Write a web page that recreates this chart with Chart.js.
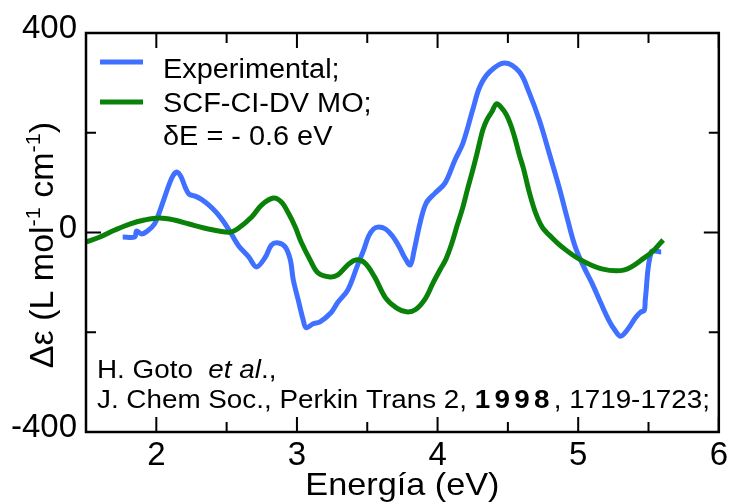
<!DOCTYPE html>
<html>
<head>
<meta charset="utf-8">
<script src="https://cdn.jsdelivr.net/npm/chart.js@4.4.1/dist/chart.umd.min.js"></script>
<style>
  body { margin: 0; background: #fff; }
  #cd { display: block; }
</style>
</head>
<body>
<canvas id="cd" width="732" height="503"></canvas>
<script>
// CD spectrum: experimental vs SCF-CI-DV MO
const expX = [1.761, 1.846, 1.86, 1.895, 1.937, 1.987, 2.022, 2.057, 2.092, 2.121, 2.149, 2.177, 2.205, 2.233, 2.276, 2.318, 2.374, 2.431, 2.48, 2.53, 2.586,
  2.657, 2.713, 2.776, 2.819, 2.868, 2.917, 2.953, 2.974, 3.009, 3.044, 3.066, 3.115, 3.164, 3.242, 3.291, 3.362, 3.432, 3.475, 3.51, 3.545, 3.58, 3.63, 3.679,
  3.728, 3.764, 3.806, 3.834, 3.877, 3.919, 3.982, 4.053, 4.123, 4.18, 4.25, 4.3, 4.37, 4.476, 4.582, 4.652, 4.723, 4.793, 4.864, 4.92, 4.977, 5.04, 5.097,
  5.16, 5.216, 5.259, 5.301, 5.35, 5.407, 5.442, 5.47, 5.477, 5.52, 5.59];
const expY = [-9, -9, 3, -3, 3, 17, 41, 69, 97, 115, 121, 111, 91, 77, 73, 67, 55, 39, 21, -1, -27,
  -49, -69, -49, -25, -21, -29, -55, -95, -135, -175, -191, -183, -179, -161, -140, -115, -65, -35, -7, 7, 11, 7, -7,
  -29, -49, -65, -35, 21, 59, 79, 99, 145, 179, 246, 292, 322, 340, 322, 280, 226, 160, 91, 31, -27, -69, -101,
  -141, -175, -195, -208, -195, -171, -160, -156, -135, -39, -39];

const calcX = [1.5, 1.599, 1.705, 1.81, 1.916, 2.022, 2.128, 2.233, 2.339, 2.445, 2.53, 2.586, 2.678, 2.748, 2.833, 2.889, 2.939, 2.988, 3.03,
  3.094, 3.15, 3.235, 3.291, 3.362, 3.418, 3.482, 3.552, 3.63, 3.707, 3.778, 3.841, 3.912, 3.968, 4.025, 4.06, 4.102, 4.138, 4.18, 4.215,
  4.25, 4.286, 4.321, 4.349, 4.384, 4.42, 4.455, 4.49, 4.525, 4.554, 4.582, 4.61, 4.652, 4.695, 4.744, 4.815, 4.885, 5.005, 5.167, 5.33, 5.47, 5.54, 5.604];
const calcY = [-19, -9, 5, 17, 25, 29, 25, 17, 9, 3, 1, 9, 31, 55, 69, 61, 39, 11, -19,
  -55, -81, -89, -85, -65, -55, -61, -89, -131, -151, -159, -155, -133, -101, -71, -53, -21, 13, 51, 89,
  125, 165, 205, 225, 241, 258, 250, 236, 212, 185, 155, 129, 81, 41, 11, -11, -29, -53, -73, -75, -51, -35, -15];

const xMajor = [2, 3, 4, 5, 6];
const xMinor = [1.5, 2.5, 3.5, 4.5, 5.5];
const yMajor = [-400, 0, 400];
const yMinor = [-200, 200];

const FONT = "'Liberation Sans', Arial, Helvetica, sans-serif";
const BLUE = 'rgb(64, 112, 255)';
const GREEN = 'rgb(10, 130, 10)';
const SX = 1.07; // the original lettering is a little wider than Arial

function pts(xs, ys) {
  return xs.map((x, i) => ({ x: x, y: ys[i] }));
}

function runWidth(ctx, parts) {
  let w = 0;
  parts.forEach(p => {
    ctx.font = p.font;
    if (p.spacing) {
      for (const ch of p.text) w += ctx.measureText(ch).width + p.spacing;
    } else {
      w += ctx.measureText(p.text).width;
    }
  });
  return w;
}

// draws text pieces one after another, stretched by sx
function drawRun(ctx, x, y, parts, sx) {
  ctx.save();
  ctx.translate(x, y);
  ctx.scale(sx, 1);
  let cx = 0;
  parts.forEach(p => {
    ctx.font = p.font;
    if (p.spacing) {
      for (const ch of p.text) {
        ctx.fillText(ch, cx, p.dy || 0);
        cx += ctx.measureText(ch).width + p.spacing;
      }
    } else {
      ctx.fillText(p.text, cx, p.dy || 0);
      cx += ctx.measureText(p.text).width;
    }
  });
  ctx.restore();
}

const decor = {
  id: 'decor',
  afterDraw(chart) {
    const ctx = chart.ctx;
    const a = chart.chartArea;
    const xs = chart.scales.x, ys = chart.scales.y;
    ctx.save();
    ctx.strokeStyle = '#000';
    ctx.lineWidth = 2.5;
    ctx.strokeRect(a.left, a.top, a.right - a.left, a.bottom - a.top);

    // inward ticks on all four sides
    ctx.lineWidth = 2;
    ctx.beginPath();
    const tx = (v, len) => {
      const p = xs.getPixelForValue(v);
      ctx.moveTo(p, a.bottom); ctx.lineTo(p, a.bottom - len);
      ctx.moveTo(p, a.top); ctx.lineTo(p, a.top + len);
    };
    const ty = (v, len) => {
      const p = ys.getPixelForValue(v);
      ctx.moveTo(a.left, p); ctx.lineTo(a.left + len, p);
      ctx.moveTo(a.right, p); ctx.lineTo(a.right - len, p);
    };
    xMajor.forEach(v => tx(v, 15));
    xMinor.forEach(v => tx(v, 10));
    yMajor.forEach(v => ty(v, 15));
    yMinor.forEach(v => ty(v, 10));
    ctx.stroke();

    ctx.fillStyle = '#000';
    ctx.textBaseline = 'alphabetic';
    ctx.textAlign = 'left';

    // legend
    const lf = '27px ' + FONT;
    ctx.lineWidth = 5;
    ctx.strokeStyle = BLUE;
    ctx.beginPath(); ctx.moveTo(100, 62); ctx.lineTo(143, 62); ctx.stroke();
    ctx.strokeStyle = GREEN;
    ctx.beginPath(); ctx.moveTo(100, 102); ctx.lineTo(143, 102); ctx.stroke();
    drawRun(ctx, 163, 78, [{ text: 'Experimental;', font: lf }], SX);
    drawRun(ctx, 163, 112, [{ text: 'SCF-CI-DV MO;', font: lf }], SX);
    drawRun(ctx, 163, 145, [{ text: '\u03b4E = - 0.6 eV', font: lf }], SX);

    // reference
    const rf = '26px ' + FONT;
    drawRun(ctx, 97, 378, [
      { text: 'H. Goto  ', font: rf },
      { text: 'et al', font: 'italic ' + rf },
      { text: '.,', font: rf }
    ], SX);
    drawRun(ctx, 97, 408, [
      { text: 'J. Chem Soc., Perkin Trans 2, ', font: rf },
      { text: '1998', font: 'bold ' + rf, spacing: 4 },
      { text: ', 1719-1723;', font: rf }
    ], SX);

    // axis titles
    const xParts = [{ text: 'Energ\u00eda (eV)', font: '32px ' + FONT }];
    const xw = runWidth(ctx, xParts) * SX;
    drawRun(ctx, (a.left + a.right) / 2 - xw / 2, 495, xParts, SX);

    const yf = '33px ' + FONT, sf = '21px ' + FONT;
    const yParts = [
      { text: '\u0394\u03b5 (L mol', font: yf },
      { text: '-1', font: sf, dy: -13 },
      { text: ' cm', font: yf },
      { text: '-1', font: sf, dy: -13 },
      { text: ')', font: yf }
    ];
    ctx.translate(53, 245);
    ctx.rotate(-Math.PI / 2);
    const yw = runWidth(ctx, yParts) * 1.03;
    drawRun(ctx, -yw / 2, 0, yParts, 1.03);
    ctx.restore();
  }
};

new Chart(document.getElementById('cd'), {
  type: 'line',
  data: {
    datasets: [
      {
        label: 'Experimental;',
        data: pts(expX, expY),
        borderColor: BLUE,
        borderWidth: 5,
        pointRadius: 0,
        tension: 0.35,
        order: 1
      },
      {
        label: 'SCF-CI-DV MO;',
        data: pts(calcX, calcY),
        borderColor: GREEN,
        borderWidth: 5,
        pointRadius: 0,
        tension: 0.35,
        order: 0
      }
    ]
  },
  options: {
    responsive: false,
    animation: false,
    devicePixelRatio: 1,
    layout: { padding: { left: 0, top: 33, right: 8, bottom: 0 } },
    plugins: {
      legend: { display: false },
      tooltip: { enabled: false }
    },
    scales: {
      x: {
        type: 'linear',
        min: 1.5,
        max: 6,
        afterBuildTicks: s => { s.ticks = xMajor.map(v => ({ value: v })); },
        afterFit: s => { s.height = 71; },
        grid: { display: false, drawTicks: false },
        border: { display: false },
        ticks: {
          autoSkip: false,
          maxRotation: 0,
          padding: 4,
          color: '#000',
          font: { family: FONT, size: 33 },
          callback: v => String(v)
        }
      },
      y: {
        type: 'linear',
        min: -400,
        max: 400,
        afterBuildTicks: s => { s.ticks = yMajor.map(v => ({ value: v })); },
        afterFit: s => { s.width = 86; },
        grid: { display: false, drawTicks: false },
        border: { display: false },
        ticks: {
          padding: 9,
          labelOffset: -4,
          color: '#000',
          font: { family: FONT, size: 33 },
          callback: v => String(v)
        }
      }
    }
  },
  plugins: [decor]
});
</script>
</body>
</html>
